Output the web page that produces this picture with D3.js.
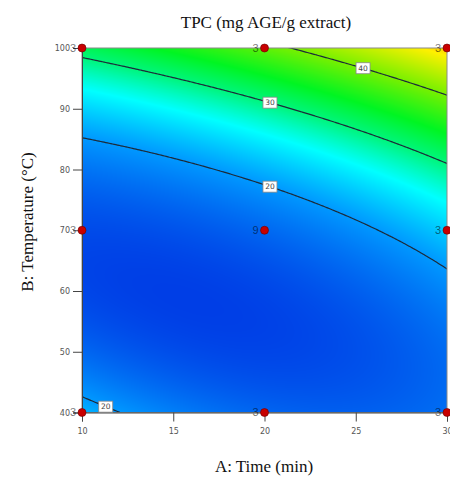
<!DOCTYPE html>
<html lang="en">
<head>
<meta charset="UTF-8">
<title>TPC contour</title>
<script src="https://d3js.org/d3.v7.min.js"></script>
<style>
  body { margin: 0; background: #fff; }
  .title, .axis-title { font-family: "Liberation Serif", serif; font-size: 17px; fill: #111; }
  .tick-label { font-family: "DejaVu Sans", sans-serif; font-size: 8px; fill: #555; }
  .run-label { font-family: "Liberation Sans", sans-serif; font-size: 11px; fill: #000; fill-opacity: .55; }
  .level-label { font-family: "DejaVu Sans", sans-serif; font-size: 7.5px; fill: #444; }
</style>
</head>
<body>
<svg id="chart" width="450" height="486"></svg>
<script>
var timeTicks = [10, 15, 20, 25, 30];
var tempTicks = [40, 50, 60, 70, 80, 90, 100];
var contourLevels = [20, 30, 40];

var designTime = [10, 20, 30, 10, 20, 30, 10, 20, 30];
var designTemp = [40, 40, 40, 70, 70, 70, 100, 100, 100];
var designRuns = [3, 3, 3, 3, 9, 3, 3, 3, 3];

var labelLevel = [20, 20, 30, 40];
var labelTime = [11.3, 20.3, 20.3, 25.4];
var labelTemp = [40.8, 77.1, 91.4, 96.7];

// response surface in coded units a=(A-20)/10, b=(B-70)/30
// terms: 1, a, b, ab, a², b², a²b, ab², b³  (fitted to the contour lines of the picture)
var modelCoef = [16.521, 4.276, 11.208, 5.414, 2.106, 11.018, -0.860, -1.177, 0.019];

var stopValue = [13, 20, 25.5, 30, 34, 40, 47, 55];
var stopColor = ["#0038e4", "#0098ff", "#00ffff", "#00f57a", "#00f522", "#78f000", "#fff000", "#ff0000"];

function model(A, B) {
  var a = (A - 20) / 10, b = (B - 70) / 30;
  var t = [1, a, b, a * b, a * a, b * b, a * a * b, a * b * b, b * b * b];
  return d3.sum(t, function(v, i) { return v * modelCoef[i]; });
}

var svg = d3.select("#chart");
var plot = { left: 82, top: 48, right: 447, bottom: 412.5 };

var x = d3.scaleLinear().domain([10, 30]).range([plot.left, plot.right]);
var y = d3.scaleLinear().domain([40, 100]).range([plot.bottom, plot.top]);
var color = d3.scaleLinear().domain(stopValue).range(stopColor).interpolate(d3.interpolateRgb).clamp(true);

// colour surface
var pw = Math.round(plot.right - plot.left), ph = Math.round(plot.bottom - plot.top);
var canvas = document.createElement("canvas");
canvas.width = pw; canvas.height = ph;
var ctx = canvas.getContext("2d");
var img = ctx.createImageData(pw, ph);
for (var j = 0; j < ph; j++) {
  for (var i = 0; i < pw; i++) {
    var c = d3.rgb(color(model(x.invert(plot.left + i + 0.5), y.invert(plot.top + j + 0.5))));
    var o = (j * pw + i) * 4;
    img.data[o] = c.r; img.data[o + 1] = c.g; img.data[o + 2] = c.b; img.data[o + 3] = 255;
  }
}
ctx.putImageData(img, 0, 0);
svg.append("image")
  .attr("x", plot.left).attr("y", plot.top)
  .attr("width", pw).attr("height", ph)
  .attr("preserveAspectRatio", "none")
  .attr("href", canvas.toDataURL());

svg.append("clipPath").attr("id", "plot-clip")
  .append("rect")
  .attr("x", plot.left).attr("y", plot.top)
  .attr("width", plot.right - plot.left).attr("height", plot.bottom - plot.top);

// contour lines, on a grid a bit wider than the plot so the ring edges fall outside the clip
var gx = [9, 31], gy = [103, 37], nx = 240, ny = 240;
var grid = new Array(nx * ny);
for (var j = 0; j < ny; j++) {
  for (var i = 0; i < nx; i++) {
    grid[j * nx + i] = model(gx[0] + i * (gx[1] - gx[0]) / (nx - 1), gy[0] + j * (gy[1] - gy[0]) / (ny - 1));
  }
}
var gridTime = d3.scaleLinear().domain([0.5, nx - 0.5]).range(gx);
var gridTemp = d3.scaleLinear().domain([0.5, ny - 0.5]).range(gy);
var path = d3.geoPath(d3.geoTransform({
  point: function(px, py) { this.stream.point(x(gridTime(px)), y(gridTemp(py))); }
}));
svg.append("g").attr("clip-path", "url(#plot-clip)")
  .selectAll("path")
  .data(d3.contours().size([nx, ny]).thresholds(contourLevels)(grid))
  .enter().append("path")
  .attr("d", path)
  .attr("fill", "none")
  .attr("stroke", "#1c2b3a")
  .attr("stroke-width", 1.2);

// frame and axes
svg.append("rect")
  .attr("x", plot.left).attr("y", plot.top)
  .attr("width", plot.right - plot.left).attr("height", plot.bottom - plot.top)
  .attr("fill", "none").attr("stroke", "#8a8a8a");

var xAxis = svg.append("g")
  .attr("transform", "translate(0," + plot.bottom + ")")
  .call(d3.axisBottom(x).tickValues(timeTicks).tickSize(9).tickPadding(7));
var yAxis = svg.append("g")
  .attr("transform", "translate(" + plot.left + ",0)")
  .call(d3.axisLeft(y).tickValues(tempTicks).tickSize(9).tickPadding(3));
[xAxis, yAxis].forEach(function(g) {
  g.select(".domain").attr("stroke", "#444");
  g.selectAll(".tick line").attr("stroke", "#444");
  g.selectAll(".tick text").attr("class", "tick-label").attr("fill", null);
});

// contour level labels, placed on the line at the given time
labelLevel.forEach(function(level, i) {
  var lo = labelTemp[i] - 6, hi = labelTemp[i] + 6;
  var s = Math.sign(model(labelTime[i], hi) - model(labelTime[i], lo));
  for (var it = 0; it < 40; it++) {
    var mid = (lo + hi) / 2;
    if ((model(labelTime[i], mid) - level) * s > 0) hi = mid; else lo = mid;
  }
  var g = svg.append("g").attr("transform", "translate(" + x(labelTime[i]) + "," + y((lo + hi) / 2) + ")");
  g.append("rect").attr("x", -7).attr("y", -5.5).attr("width", 14).attr("height", 11)
    .attr("fill", "#fff").attr("stroke", "#888").attr("stroke-width", 0.8);
  g.append("text").attr("class", "level-label").attr("text-anchor", "middle").attr("dy", "0.35em").text(level);
});

// design points
var pts = svg.append("g").selectAll("g")
  .data(designTime.map(function(t, i) { return { t: t, T: designTemp[i], n: designRuns[i] }; }))
  .enter().append("g")
  .attr("transform", function(d) { return "translate(" + x(d.t) + "," + y(d.T) + ")"; });
pts.append("circle").attr("r", 4).attr("fill", "#c80000").attr("stroke", "#6a0000").attr("stroke-width", 0.6);
pts.append("text").attr("class", "run-label").attr("x", -6).attr("dy", "0.36em")
  .attr("text-anchor", "end").text(function(d) { return d.n; });

// titles
svg.append("text").attr("class", "title").attr("x", 266).attr("y", 28)
  .attr("text-anchor", "middle").text("TPC (mg AGE/g extract)");
svg.append("text").attr("class", "axis-title").attr("x", 264).attr("y", 472)
  .attr("text-anchor", "middle").text("A: Time (min)");
svg.append("text").attr("class", "axis-title")
  .attr("transform", "translate(33,222) rotate(-90)")
  .attr("text-anchor", "middle").text("B: Temperature (\u00b0C)");
</script>
</body>
</html>
